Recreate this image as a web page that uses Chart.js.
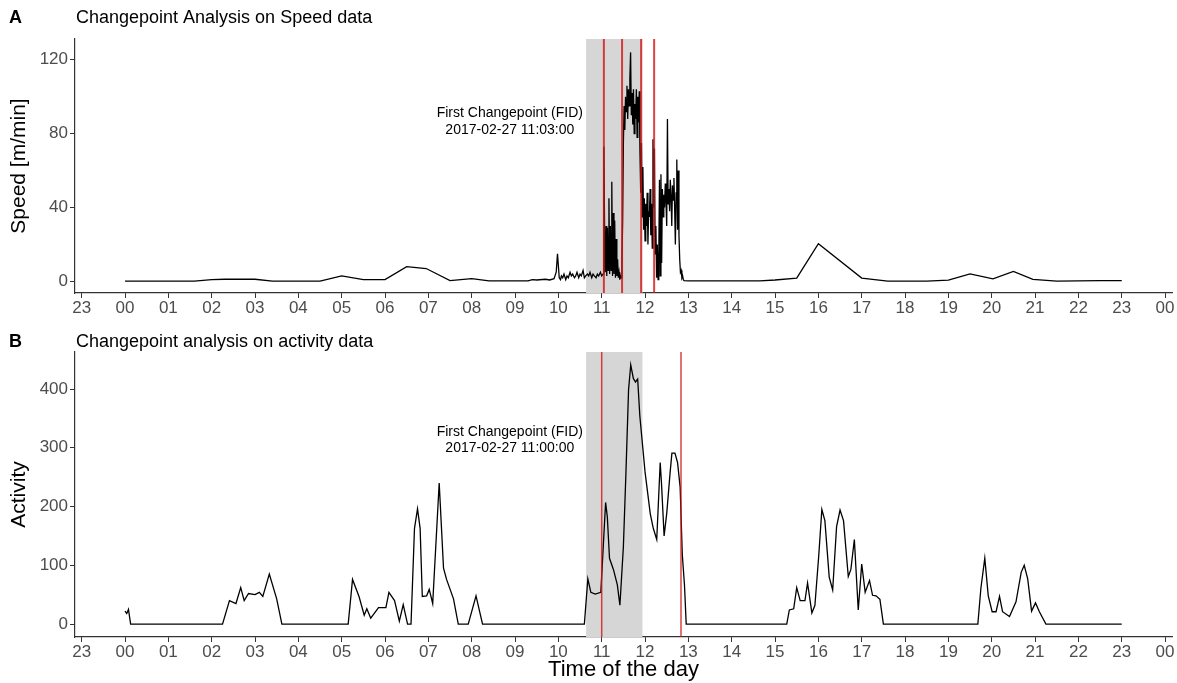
<!DOCTYPE html>
<html>
<head>
<meta charset="utf-8">
<script src="https://cdn.jsdelivr.net/npm/chart.js@4.4.1/dist/chart.umd.min.js"></script>
<style>
html, body { margin: 0; padding: 0; background: #fff; overflow: hidden; }
.panel { position: absolute; left: 0; width: 1177px; }
#wrapA { top: 0; height: 320px; }
#wrapB { top: 320px; height: 363px; }
</style>
</head>
<body>
<div class="panel" id="wrapA"><canvas id="speedChart"></canvas></div>
<div class="panel" id="wrapB"><canvas id="activityChart"></canvas></div>
<script>
// Hour ticks (-1 = 23h of the previous day, 24 = midnight next day)
const hourTicks = [-1, 0, 1, 2, 3, 4, 5, 6, 7, 8, 9, 10, 11, 12, 13, 14, 15, 16, 17, 18, 19, 20, 21, 22, 23, 24];
const hourLabels = ['23', '00', '01', '02', '03', '04', '05', '06', '07', '08', '09', '10', '11', '12',
    '13', '14', '15', '16', '17', '18', '19', '20', '21', '22', '23', '00'];

const speedTicks = [0, 40, 80, 120];
const activityTicks = [0, 100, 200, 300, 400];

// Speed [m/min], time in hours of the day
const speedTime = [
    0.00, 1.60, 2.00, 2.30, 3.00, 3.40, 4.50, 5.00, 5.50, 6.00, 6.50, 6.95, 7.50, 8.00, 8.40, 9.30, 9.40, 9.50, 9.70, 9.80, 9.90, 9.95, 9.98, 10.02, 10.05,
    10.07, 10.10, 10.13, 10.17, 10.20, 10.23, 10.27, 10.30, 10.33, 10.37, 10.40, 10.43, 10.47, 10.50, 10.53, 10.57, 10.60, 10.63, 10.67, 10.70, 10.73, 10.77, 10.80, 10.83, 10.87, 10.90, 10.93, 10.97, 11.00, 11.03,
    11.050, 11.067, 11.083, 11.100, 11.117, 11.133, 11.150, 11.167, 11.183, 11.200, 11.217, 11.233, 11.250, 11.267, 11.283, 11.300, 11.317, 11.333, 11.350, 11.367, 11.383, 11.400, 11.417, 11.433, 11.450,
    11.467, 11.483, 11.500, 11.517, 11.533, 11.550, 11.567, 11.583, 11.600, 11.617, 11.633, 11.650, 11.667, 11.683, 11.700, 11.717, 11.733, 11.750, 11.767, 11.783, 11.800, 11.817, 11.833, 11.850, 11.867, 11.883,
    11.900, 11.917, 11.933, 11.950, 11.967, 11.983, 12.000, 12.017, 12.033, 12.050, 12.067, 12.083, 12.100, 12.117, 12.133, 12.150, 12.167, 12.183, 12.200, 12.217, 12.233, 12.250, 12.267, 12.283, 12.300,
    12.317, 12.333, 12.350, 12.367, 12.383, 12.400, 12.417, 12.433, 12.450, 12.467, 12.483, 12.500, 12.517, 12.533, 12.550, 12.567, 12.583, 12.600, 12.617, 12.633, 12.650, 12.667, 12.683, 12.700,
    12.717, 12.733, 12.750, 12.767, 12.783, 12.800, 12.817, 12.833, 12.850, 12.867, 12.883, 12.900,
    13.00, 14.65, 15.00, 15.50, 16.00, 17.00, 17.60, 18.50, 19.00, 19.50, 20.03, 20.50, 20.95, 21.50, 22.50, 23.00
];
const speedValue = [
    0.2, 0.2, 1.0, 1.2, 1.2, 0.2, 0.2, 3.0, 1.0, 1.0, 8.0, 7.0, 0.5, 1.5, 0.3, 0.3, 1.0, 0.8, 1.2, 0.8, 1.5, 5, 15, 2, 1,
    3, 2, 4, 1, 3, 2, 5, 3, 4, 2, 3, 5, 2, 4, 3, 6, 2, 3, 4, 3, 5, 2, 4, 3, 2, 4, 3, 5, 3, 4,
    73, 27, 5, 30, 3, 29, 6, 45, 4, 30, 6, 54, 3, 37, 4, 33, 2, 23, 3, 12, 2, 5, 1, 3, 2,
    12, 33, 75, 95, 82, 100, 92, 106, 88, 104, 95, 110, 124, 90, 102, 85, 104, 80, 96, 88, 104, 78, 100, 86, 103, 70,
    48, 75, 35, 62, 28, 45, 22, 42, 30, 48, 20, 38, 35, 50, 25, 42, 18, 77, 40, 72, 15, 30, 2, 20, 1,
    12, 55, 3, 58, 10, 50, 35, 47, 40, 53, 44, 30, 88, 42, 50, 38, 55, 46, 30, 52, 44, 56, 40, 20,
    48, 66, 28, 60, 25, 12, 5, 6, 2, 3, 1, 0.5,
    0.3, 0.3, 0.8, 1.8, 20.4, 1.8, 0.2, 0.2, 0.7, 4.1, 1.4, 5.4, 1.1, 0.2, 0.5, 0.5
];

// Activity counts, time in hours of the day
const activityTime = [
    0.00, 0.04, 0.08, 0.13, 2.25, 2.41, 2.56, 2.67, 2.75, 2.85, 3.00, 3.10, 3.18, 3.33, 3.50, 3.62,
    5.15, 5.25, 5.40, 5.52, 5.58, 5.67, 5.85, 6.02, 6.09, 6.22, 6.33, 6.42, 6.52, 6.60, 6.68, 6.75, 6.81, 6.86, 6.96, 7.02, 7.10,
    7.25, 7.35, 7.42, 7.58, 7.69, 7.92, 8.10, 8.25,
    10.60, 10.68, 10.75, 10.85, 10.98, 11.09, 11.13, 11.18, 11.27, 11.36, 11.42, 11.50, 11.56, 11.62, 11.67, 11.73, 11.78, 11.83, 11.88,
    12.00, 12.12, 12.19, 12.27, 12.35, 12.38, 12.44, 12.50, 12.58, 12.62, 12.69, 12.75, 12.81, 12.86, 12.91, 12.95,
    15.27, 15.33, 15.43, 15.50, 15.58, 15.69, 15.75, 15.85, 15.92, 16.01, 16.08, 16.15, 16.25, 16.33, 16.42, 16.50, 16.58, 16.69, 16.75, 16.83, 16.92,
    17.00, 17.08, 17.18, 17.25, 17.33, 17.42, 17.50,
    19.68, 19.75, 19.84, 19.92, 20.01, 20.10, 20.18, 20.25, 20.41, 20.56, 20.68, 20.75, 20.83, 20.92, 21.01, 21.10, 21.25, 23.00
];
const activityValue = [
    22, 18, 25, 0, 0, 40, 35, 62, 40, 52, 50, 54, 47, 85, 43, 0,
    0, 76, 47, 15, 26, 10, 28, 28, 54, 40, 5, 33, 0, 0, 163, 196, 163, 47, 48, 59, 35,
    240, 95, 76, 43, 0, 0, 48, 0,
    0, 77, 54, 51, 54, 207, 182, 112, 93, 67, 32, 131, 259, 399, 441, 418, 412, 417, 354,
    259, 188, 163, 144, 275, 239, 150, 188, 259, 291, 291, 275, 233, 118, 67, 0,
    0, 24, 26, 62, 40, 40, 70, 19, 32, 118, 195, 176, 80, 58, 166, 194, 176, 81, 93, 144, 24,
    102, 54, 74, 49, 48, 42, 0,
    0, 61, 112, 48, 21, 21, 47, 21, 13, 38, 88, 100, 77, 22, 36, 21, 0, 0
];

const shadedWindow = [10.64, 11.94];
const speedChangepoints = [11.05, 11.47, 11.91, 12.21];
const activityChangepoints = [11.0, 12.83];

const FONT = "'Liberation Sans', Arial, sans-serif";

// Draws the grey window, the red changepoint lines, the label and the panel heading
const panelDecor = {
    id: 'panelDecor',
    beforeDatasetsDraw(chart, args, opts) {
        const {ctx, chartArea, scales: {x}} = chart;
        const x0 = x.getPixelForValue(opts.shade[0]);
        const x1 = x.getPixelForValue(opts.shade[1]);
        ctx.save();
        ctx.fillStyle = '#d6d6d6';
        ctx.fillRect(x0, chartArea.top, x1 - x0, chartArea.bottom - chartArea.top);
        ctx.restore();
    },
    afterDatasetsDraw(chart, args, opts) {
        const {ctx, chartArea, scales: {x, y}} = chart;
        ctx.save();
        ctx.strokeStyle = 'rgba(210, 20, 20, 0.8)';
        ctx.lineWidth = opts.redWidth;
        opts.lines.forEach(v => {
            const px = x.getPixelForValue(v);
            ctx.beginPath();
            ctx.moveTo(px, chartArea.top);
            ctx.lineTo(px, chartArea.bottom);
            ctx.stroke();
        });
        ctx.fillStyle = '#000';
        ctx.font = '14px ' + FONT;
        ctx.textAlign = 'center';
        ctx.textBaseline = 'middle';
        const lx = x.getPixelForValue(opts.labelX);
        opts.label.forEach((t, i) => ctx.fillText(t, lx, y.getPixelForValue(opts.labelY[i])));
        ctx.restore();
    },
    afterDraw(chart, args, opts) {
        const {ctx} = chart;
        ctx.save();
        ctx.fillStyle = '#000';
        ctx.textBaseline = 'middle';
        ctx.textAlign = 'left';
        ctx.font = 'bold 18px ' + FONT;
        ctx.fillText(opts.tag, 9, opts.headY);
        ctx.font = '18px ' + FONT;
        ctx.fillText(opts.heading, 76, opts.headY);
        ctx.restore();
    }
};

const makePanel = (canvasId, times, values, cfg) => new Chart(document.getElementById(canvasId), {
    type: 'line',
    data: {
        datasets: [{
            data: times.map((t, i) => ({x: t, y: values[i]})),
            borderColor: '#000',
            borderWidth: 1.3,
            pointRadius: 0,
            tension: 0,
            fill: false
        }]
    },
    options: {
        responsive: true,
        maintainAspectRatio: false,
        animation: false,
        layout: {padding: {top: cfg.padTop, right: 5, left: 0, bottom: 0}},
        plugins: {
            legend: {display: false},
            tooltip: {enabled: false},
            panelDecor: cfg.decor
        },
        scales: {
            x: {
                type: 'linear',
                min: -1.154,
                max: 24.16,
                afterBuildTicks: s => { s.ticks = hourTicks.map(v => ({value: v})); },
                afterFit: s => { s.height = cfg.xHeight; },
                grid: {drawOnChartArea: false, drawTicks: true, tickLength: 5, color: '#333'},
                border: {display: true, color: '#333', width: 1.2},
                ticks: {
                    autoSkip: false,
                    maxRotation: 0,
                    padding: 0,
                    color: '#4d4d4d',
                    font: {family: FONT, size: 17},
                    callback: v => hourLabels[hourTicks.indexOf(v)]
                },
                title: cfg.xTitle
            },
            y: {
                min: cfg.yMin,
                max: cfg.yMax,
                afterBuildTicks: s => { s.ticks = cfg.yTicks.map(v => ({value: v})); },
                afterFit: s => { s.width = 75; },
                grid: {drawOnChartArea: false, drawTicks: true, tickLength: 5, color: '#333'},
                border: {display: true, color: '#333', width: 1.2},
                ticks: {padding: 2, color: '#4d4d4d', font: {family: FONT, size: 17}},
                title: {
                    display: true,
                    text: cfg.yTitle,
                    color: '#000',
                    font: {family: FONT, size: 21},
                    padding: {top: 7, bottom: 0}
                }
            }
        }
    },
    plugins: [panelDecor]
});

makePanel('speedChart', speedTime, speedValue, {
    padTop: 39,
    xHeight: 27,
    yMin: -6.25,
    yMax: 131.25,
    yTicks: speedTicks,
    yTitle: 'Speed [m/min]',
    xTitle: {display: false},
    decor: {
        shade: shadedWindow,
        lines: speedChangepoints,
        redWidth: 2,
        label: ['First Changepoint (FID)', '2017-02-27 11:03:00'],
        labelX: 8.88,
        labelY: [91, 82],
        tag: 'A',
        heading: 'Changepoint Analysis on Speed data',
        headY: 18
    }
});

makePanel('activityChart', activityTime, activityValue, {
    padTop: 32,
    xHeight: 46,
    yMin: -22,
    yMax: 463,
    yTicks: activityTicks,
    yTitle: 'Activity',
    xTitle: {
        display: true,
        text: 'Time of the day',
        color: '#000',
        font: {family: FONT, size: 22},
        padding: {top: 0, bottom: 0}
    },
    decor: {
        shade: shadedWindow,
        lines: activityChangepoints,
        redWidth: 1.5,
        label: ['First Changepoint (FID)', '2017-02-27 11:00:00'],
        labelX: 8.88,
        labelY: [327, 299],
        tag: 'B',
        heading: 'Changepoint analysis on activity data',
        headY: 22
    }
});
</script>
</body>
</html>
